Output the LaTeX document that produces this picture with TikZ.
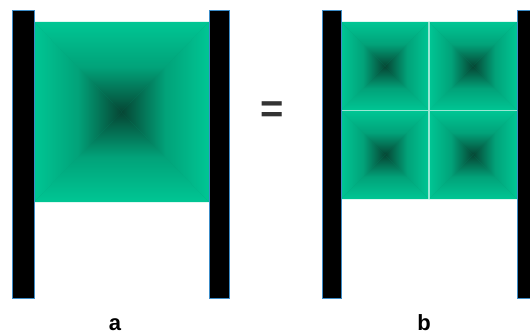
\documentclass[tikz,border=0pt]{standalone}
\usepackage{fontspec}
\setmainfont{Liberation Sans}
\definecolor{verdechiaro}{RGB}{0,198,148}
\definecolor{verdescuro}{RGB}{6,70,52}
\definecolor{bordobarra}{RGB}{60,140,200}
\colorlet{verdemedio}{verdechiaro!72!verdescuro}
% piramide: (#1,#2) in alto a sinistra, (#3,#4) in basso a destra
\newcommand{\piramide}[4]{%
  \fill[verdemedio] (#1,#2) rectangle (#3,#4);
  \shade[top color=verdechiaro, bottom color=verdescuro, middle color=verdemedio]
    (#1,#2) -- (#3,#2) -- ({(#1+#3)/2},{(#2+#4)/2}) -- cycle;
  \shade[top color=verdescuro, bottom color=verdechiaro, middle color=verdemedio]
    (#1,#4) -- (#3,#4) -- ({(#1+#3)/2},{(#2+#4)/2}) -- cycle;
  \shade[left color=verdechiaro, right color=verdescuro, middle color=verdemedio]
    (#1,#2) -- (#1,#4) -- ({(#1+#3)/2},{(#2+#4)/2}) -- cycle;
  \shade[left color=verdescuro, right color=verdechiaro, middle color=verdemedio]
    (#3,#2) -- (#3,#4) -- ({(#1+#3)/2},{(#2+#4)/2}) -- cycle;
}
\tikzset{
  barra/.style={fill=black, draw=bordobarra, line width=0.6pt},
  etichetta/.style={font=\bfseries\fontsize{22}{26}\selectfont, inner sep=0pt},
  griglia/.style={draw=verdechiaro!40!white, line width=1.6pt}
}
\begin{document}
\begin{tikzpicture}[x=1pt, y=-1pt]
    \useasboundingbox (0,0) rectangle (530,334);
    \clip (0,0) rectangle (530,334);

    % Pannello a
    \piramide{34}{22}{209}{202}
    \draw[barra] (12,10) rectangle (34,298);
    \draw[barra] (209,10) rectangle (229,298);
    \node[etichetta] (etia) at (115,325) {a};

    % Uguale
    \node[font=\bfseries\fontsize{40}{44}\selectfont, text=black!80, inner sep=0pt] (uguale) at (272.5,112) {=};

    % Pannello b, quattro celle
    \foreach \cx in {341,429}
      \foreach \cy in {22,110.5}
        {\piramide{\cx}{\cy}{\cx+88}{\cy+88.5}}
    \draw[griglia] (429,22) -- (429,199);
    \draw[griglia] (341,110.5) -- (517,110.5);
    \draw[barra] (322,10) rectangle (341,298);
    \draw[barra] (517,10) rectangle (545,298);
    \node[etichetta] (etib) at (424,323) {b};
\end{tikzpicture}
\end{document}
